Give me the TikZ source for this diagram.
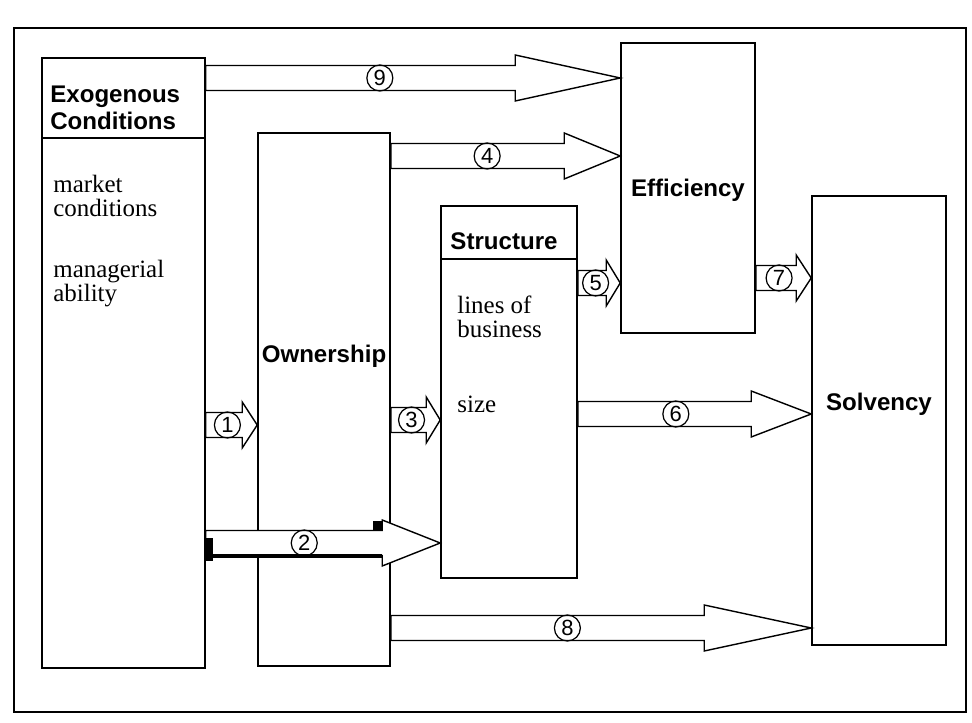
\documentclass[tikz,border=0pt]{standalone}
\usepackage{fontspec}
\setmainfont{Liberation Serif}
\setsansfont{Liberation Sans}
\usetikzlibrary{calc}

\begin{document}
\begin{tikzpicture}[line join=miter,
  box/.style={draw,line width=0.9pt,inner sep=0pt},
  title/.style={font=\sffamily\bfseries\fontsize{13.7}{15.4}\selectfont,inner sep=0pt},
  body/.style={font=\fontsize{14.2}{13.6}\selectfont,inner sep=0pt,align=left,anchor=north west},
  fatarrow/.style={draw,fill=white,line width=0.8pt},
  num/.style={circle,draw,line width=0.7pt,inner sep=0pt,minimum size=0.52cm,font=\sffamily\fontsize{12.5}{13}\selectfont}]
\useasboundingbox (0,0) rectangle (19.44,14.44);
\draw[line width=1.3pt] (0.28,0.20) rectangle (19.32,13.88);
\node[box,minimum width=3.26cm,minimum height=12.2cm] (exo) at (2.47,7.18) {};
\node[box,minimum width=2.64cm,minimum height=10.66cm] (own) at (6.48,6.45) {};
\node[box,minimum width=2.72cm,minimum height=7.44cm] (str) at (10.18,6.60) {};
\node[box,minimum width=2.68cm,minimum height=5.80cm] (eff) at (13.76,10.68) {};
\node[box,minimum width=2.68cm,minimum height=8.98cm] (sol) at (17.58,6.03) {};
\draw[line width=0.9pt] (exo.west |- 0,11.68) -- (exo.east |- 0,11.68);
\draw[line width=0.9pt] (str.west |- 0,9.26) -- (str.east |- 0,9.26);
\node[title,anchor=north west,align=left] (exotitle) at (1.00,12.72) {Exogenous\\Conditions};
\node[body] (market) at (1.06,10.94) {market\\conditions};
\node[body] (manager) at (1.06,9.24) {managerial\\ability};
\node[title,anchor=base] (owntitle) at (6.48,7.18) {Ownership};
\node[title,anchor=base] (strtitle) at (10.08,9.44) {Structure};
\node[body] (lines) at (9.14,8.52) {lines of\\business};
\node[body,anchor=base west] (size) at (9.14,6.18) {size};
\node[title,anchor=base] (efftitle) at (13.76,10.50) {Efficiency};
\node[title,anchor=base] (soltitle) at (17.58,6.22) {Solvency};
\foreach \s/\t/\y/\h/\n in {exo/eff/12.88/2.10/9,own/eff/11.32/1.12/4,str/eff/8.78/0.28/5,eff/sol/8.88/0.30/7,exo/own/5.94/0.30/1,own/str/6.04/0.28/3,str/sol/6.16/1.20/6,own/sol/1.88/2.14/8,exo/str/3.58/1.16/2}{
  \path (\s.east |- 0,\y) coordinate (tail) (\t.west |- 0,\y) coordinate (tip);
  \draw[fatarrow] ($(tail)+(0,0.25)$) -- ($(tip)+(-\h,0.25)$) -- ($(tip)+(-\h,0.46)$) -- (tip) -- ($(tip)+(-\h,-0.46)$) -- ($(tip)+(-\h,-0.25)$) -- ($(tail)+(0,-0.25)$) -- cycle;
  \node[num] (n\n) at ($(tail)!0.42!(tip)$) {\n};
}
\draw[line width=2.4pt] ($(exo.east |- 0,3.58)+(0,-0.26)$) -- ($(str.west |- 0,3.58)+(-1.16,-0.26)$);
\fill ($(exo.east |- 0,3.58)+(0,-0.36)$) rectangle ++(0.14,0.46);
\fill ($(str.west |- 0,3.58)+(-1.34,0.25)$) rectangle ++(0.18,0.19);
\end{tikzpicture}
\end{document}
